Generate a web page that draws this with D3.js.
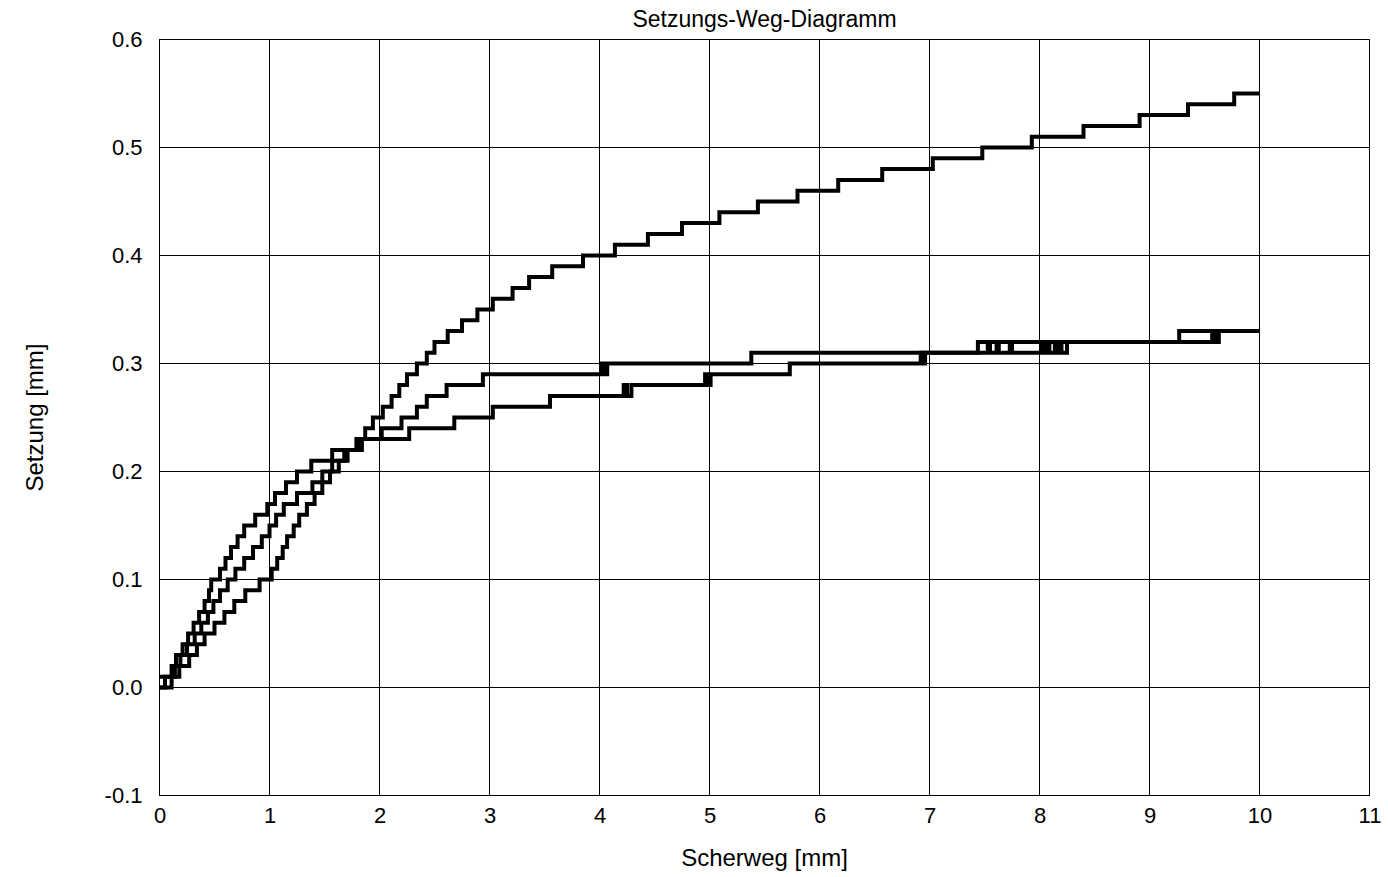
<!DOCTYPE html>
<html>
<head>
<meta charset="utf-8">
<script src="https://cdn.jsdelivr.net/npm/d3@7"></script>
<style>
  body { margin: 0; background: #fff; }
  text { font-family: "Liberation Sans", Arial, sans-serif; fill: #000; }
</style>
</head>
<body>
<svg id="chart" width="1388" height="877"></svg>
<script>
// Axis ticks
const xTicks = [0, 1, 2, 3, 4, 5, 6, 7, 8, 9, 10, 11];
const yTicks = [-0.1, 0.0, 0.1, 0.2, 0.3, 0.4, 0.5, 0.6];

// Settlement steps: [shear path mm, settlement mm], each level holds until the next point
const seriesA = [
  [0.00, 0.00], [0.11, 0.01], [0.18, 0.02], [0.27, 0.03], [0.34, 0.04], [0.41, 0.05],
  [0.50, 0.06], [0.59, 0.07], [0.68, 0.08], [0.78, 0.09], [0.91, 0.10], [1.02, 0.11],
  [1.07, 0.12], [1.12, 0.13], [1.16, 0.14], [1.22, 0.15], [1.27, 0.16], [1.34, 0.17],
  [1.41, 0.18], [1.48, 0.19], [1.55, 0.20], [1.63, 0.21], [1.71, 0.22], [1.79, 0.23],
  [1.87, 0.24], [1.94, 0.25], [2.03, 0.26], [2.11, 0.27], [2.18, 0.28], [2.25, 0.29],
  [2.34, 0.30], [2.43, 0.31], [2.50, 0.32], [2.62, 0.33], [2.75, 0.34], [2.89, 0.35],
  [3.03, 0.36], [3.21, 0.37], [3.36, 0.38], [3.57, 0.39], [3.85, 0.40], [4.14, 0.41],
  [4.44, 0.42], [4.75, 0.43], [5.09, 0.44], [5.44, 0.45], [5.80, 0.46], [6.17, 0.47],
  [6.57, 0.48], [7.03, 0.49], [7.48, 0.50], [7.93, 0.51], [8.40, 0.52], [8.91, 0.53],
  [9.35, 0.54], [9.77, 0.55], [10.00, 0.55]
];

const seriesB = [
  [0.00, 0.00], [0.05, 0.01], [0.14, 0.02], [0.19, 0.03], [0.25, 0.04], [0.32, 0.05],
  [0.38, 0.06], [0.44, 0.07], [0.49, 0.08], [0.55, 0.09], [0.62, 0.10], [0.69, 0.11],
  [0.77, 0.12], [0.85, 0.13], [0.93, 0.14], [1.00, 0.15], [1.06, 0.16], [1.13, 0.17],
  [1.25, 0.18], [1.39, 0.19], [1.48, 0.20], [1.57, 0.21], [1.68, 0.22], [1.82, 0.23],
  [2.02, 0.24], [2.20, 0.25], [2.34, 0.26], [2.43, 0.27], [2.61, 0.28], [2.94, 0.29],
  [4.02, 0.30], [4.04, 0.29], [4.07, 0.30], [5.38, 0.31],
  [7.53, 0.32], [7.55, 0.31], [7.61, 0.32], [7.63, 0.31], [7.73, 0.32], [7.75, 0.31],
  [8.02, 0.32], [8.04, 0.31], [8.07, 0.32], [8.09, 0.31], [8.14, 0.32], [8.16, 0.31],
  [8.18, 0.32], [8.20, 0.31], [8.25, 0.32], [9.27, 0.33], [10.00, 0.33]
];

const seriesC = [
  [0.00, 0.01], [0.11, 0.02], [0.15, 0.03], [0.21, 0.04], [0.26, 0.05], [0.31, 0.06],
  [0.36, 0.07], [0.41, 0.08], [0.45, 0.09], [0.47, 0.10], [0.55, 0.11], [0.60, 0.12],
  [0.65, 0.13], [0.71, 0.14], [0.77, 0.15], [0.87, 0.16], [0.98, 0.17], [1.05, 0.18],
  [1.15, 0.19], [1.25, 0.20], [1.38, 0.21], [1.57, 0.22], [1.84, 0.23], [2.27, 0.24],
  [2.68, 0.25], [3.03, 0.26], [3.55, 0.27], [4.22, 0.28], [4.25, 0.27], [4.29, 0.28],
  [4.96, 0.29], [4.98, 0.28], [5.01, 0.29], [5.73, 0.30], [6.92, 0.31], [6.94, 0.30],
  [6.96, 0.31], [7.44, 0.32], [9.57, 0.33], [9.60, 0.32], [9.63, 0.33], [10.00, 0.33]
];

const seriesList = [seriesA, seriesB, seriesC];

const svg = d3.select("#chart");
const plot = { left: 159.5, right: 1369.5, top: 39.5, bottom: 795.5 };

const x = d3.scaleLinear().domain([0, 11]).range([plot.left, plot.right]);
const y = d3.scaleLinear().domain([-0.1, 0.6]).range([plot.bottom, plot.top]);

// Grid lines
const grid = svg.append("g");
grid.selectAll("line.vx").data(xTicks).join("line")
  .attr("x1", d => x(d)).attr("x2", d => x(d))
  .attr("y1", plot.top).attr("y2", plot.bottom)
  .attr("stroke", "#000").attr("stroke-width", 1);
grid.selectAll("line.hy").data(yTicks).join("line")
  .attr("x1", plot.left).attr("x2", plot.right)
  .attr("y1", d => y(d)).attr("y2", d => y(d))
  .attr("stroke", "#000").attr("stroke-width", 1);

// Axes (labels only; grid carries the lines)
const fmtY = d => d3.format(".1f")(d).replace("\u2212", "-");
const xAxis = svg.append("g")
  .attr("transform", `translate(0,${plot.bottom})`)
  .call(d3.axisBottom(x).tickValues(xTicks).tickFormat(d3.format("d")).tickSize(0).tickPadding(12));
const yAxis = svg.append("g")
  .attr("transform", `translate(${plot.left},0)`)
  .call(d3.axisLeft(y).tickValues(yTicks).tickFormat(fmtY).tickSize(0).tickPadding(17));
[xAxis, yAxis].forEach(a => {
  a.select(".domain").remove();
  a.selectAll("text").style("font-size", "22px").attr("font-family", null);
});

// Border
svg.append("rect")
  .attr("x", plot.left).attr("y", plot.top)
  .attr("width", plot.right - plot.left).attr("height", plot.bottom - plot.top)
  .attr("fill", "none").attr("stroke", "#000").attr("stroke-width", 1);

// Step curves
const line = d3.line()
  .x(d => x(d[0])).y(d => y(d[1]))
  .curve(d3.curveStepAfter);

svg.append("g").selectAll("path").data(seriesList).join("path")
  .attr("d", line)
  .attr("fill", "none")
  .attr("stroke", "#000")
  .attr("stroke-width", 4)
  .attr("stroke-linejoin", "miter")
  .attr("stroke-linecap", "butt");

// Titles
svg.append("text")
  .attr("x", (plot.left + plot.right) / 2).attr("y", 27)
  .attr("text-anchor", "middle").style("font-size", "23px")
  .text("Setzungs-Weg-Diagramm");
svg.append("text")
  .attr("x", (plot.left + plot.right) / 2).attr("y", 866)
  .attr("text-anchor", "middle").style("font-size", "24px")
  .text("Scherweg [mm]");
svg.append("text")
  .attr("transform", `translate(43,${(plot.top + plot.bottom) / 2}) rotate(-90)`)
  .attr("text-anchor", "middle").style("font-size", "24px")
  .text("Setzung [mm]");
</script>
</body>
</html>
